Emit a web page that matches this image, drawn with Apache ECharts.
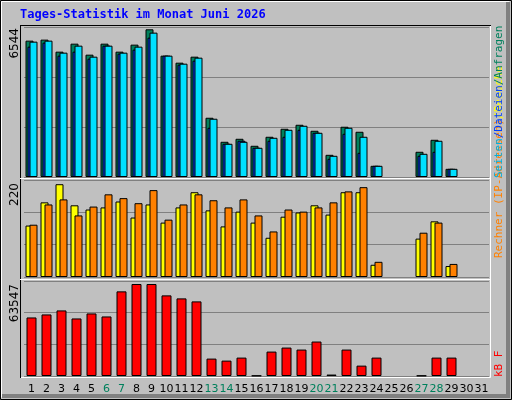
<!DOCTYPE html>
<html><head><meta charset="utf-8">
<script src="https://cdn.jsdelivr.net/npm/echarts@6/dist/echarts.min.js"></script>
<style>html,body{margin:0;padding:0;background:#c0c0c0}#c{width:512px;height:400px}</style>
</head><body><div id="c"></div>
<script>
const days = Array.from({length:31},(_,i)=>String(i+1));
const weekendDays = ['6','7','13','14','20','21','27','28'];
const anfragen = [6041,6086,5553,5908,5420,5908,5553,5864,6544,5376,5065,5331,2625,1560,1693,1383,1782,2137,2314,2048,983,2226,2004,495,null,null,1117,1649,362,null,null];
const dateien  = [5775,5953,5376,5553,5243,5819,5465,5642,6174,5376,4977,5154,2181,1472,1605,1294,1605,1782,2092,1959,806,1915,1072,495,null,null,939,1117,362,null,null];
const seiten   = [5997,6041,5509,5819,5331,5819,5509,5775,6396,5376,5021,5287,2581,1472,1560,1294,1737,2092,2270,1959,939,2181,1782,495,null,null,1028,1605,362,null,null];
const besuche  = [122,177,220,170,160,165,179,141,172,129,165,201,158,120,155,129,93,143,153,170,148,201,201,29,null,null,91,132,26,null,null];
const rechner  = [124,172,184,146,167,196,187,175,206,136,172,196,182,165,184,146,108,160,155,165,177,203,213,36,null,null,105,129,31,null,null];
const kbytes   = [40439,42519,45292,39746,43212,41132,58463,63547,63547,55690,53611,51531,12016,10630,12709,300,16869,19642,18256,23801,1000,18256,7163,12709,null,null,300,12709,12709,null,null];
const maxLabels = ['6544','220','63547'];

const chart = echarts.init(document.getElementById('c'));
const grids = [{left:24,width:465,top:27,height:150},{left:24,width:465,top:180,height:97},{left:24,width:465,top:281,height:95}];
const maxes = [6646,230,65627];
const xAxes = grids.map((g,i)=>({type:'category',gridIndex:i,data:days,axisLine:{show:false},axisTick:{show:false},
  axisLabel:{show:i===2,interval:0,margin:8,fontFamily:'DejaVu Sans',fontSize:11,
   formatter:v=>weekendDays.includes(v)?'{w|'+v+'}':'{n|'+v+'}',
   rich:{w:{color:'#00805c',fontFamily:'DejaVu Sans',fontSize:11},n:{color:'#000',fontFamily:'DejaVu Sans',fontSize:11}}}}));
const yAxes = grids.map((g,i)=>({type:'value',gridIndex:i,min:0,max:maxes[i],interval:maxes[i]/3,axisLabel:{show:false},axisLine:{show:false},axisTick:{show:false},splitLine:{show:true,lineStyle:{color:'#808080',width:1}}}));
const bs = {borderColor:'#000',borderWidth:1};
const rot = (x,y,parts,align)=>({type:'text',x:x,y:y,rotation:Math.PI/2,style:{rich:parts.rich,text:parts.text,align:align,verticalAlign:'middle',fontFamily:'DejaVu Sans Mono',fontSize:11}});
chart.setOption({
  animation:false,
  backgroundColor:'#c0c0c0',
  grid:grids,xAxis:xAxes,yAxis:yAxes,
  series:[
    {type:'bar',xAxisIndex:0,yAxisIndex:0,data:anfragen,barWidth:8,barGap:'-75%',itemStyle:Object.assign({color:'#00805c'},bs)},
    {type:'bar',xAxisIndex:0,yAxisIndex:0,data:dateien,barWidth:8,barGap:'-75%',itemStyle:Object.assign({color:'#0040ff'},bs)},
    {type:'bar',xAxisIndex:0,yAxisIndex:0,data:seiten,barWidth:8,barGap:'-75%',itemStyle:Object.assign({color:'#00e0ff'},bs)},
    {type:'bar',xAxisIndex:1,yAxisIndex:1,data:besuche,barWidth:8,barGap:'-50%',itemStyle:Object.assign({color:'#ffff00'},bs)},
    {type:'bar',xAxisIndex:1,yAxisIndex:1,data:rechner,barWidth:8,barGap:'-50%',itemStyle:Object.assign({color:'#ff8000'},bs)},
    {type:'bar',xAxisIndex:2,yAxisIndex:2,data:kbytes,barWidth:10,itemStyle:Object.assign({color:'#ff0000'},bs)}
  ],
  graphic:[
    {type:'rect',shape:{x:0.5,y:0.5,width:511,height:399},style:{fill:null,stroke:'#000',lineWidth:1}},
    {type:'polyline',shape:{points:[[1.5,397.5],[1.5,1.5],[509.5,1.5]]},style:{fill:null,stroke:'#fff',lineWidth:1}},
    {type:'rect',shape:{x:506,y:2,width:4,height:396},style:{fill:'#808080'}},
    {type:'rect',shape:{x:2,y:394,width:508,height:4},style:{fill:'#808080'}},
    {type:'text',x:20,y:15,style:{text:'Tages-Statistik im Monat Juni 2026',fill:'#0000ff',font:'bold 12px "DejaVu Sans Mono"',verticalAlign:'middle'}},
    {type:'rect',shape:{x:20.5,y:25.5,width:470,height:352},style:{fill:null,stroke:'#fff',lineWidth:1}},
    {type:'line',shape:{x1:20.5,y1:25,x2:20.5,y2:378},style:{stroke:'#000',lineWidth:1}},
    {type:'line',shape:{x1:20,y1:25.5,x2:491,y2:25.5},style:{stroke:'#000',lineWidth:1}},
    {type:'line',shape:{x1:20,y1:178.5,x2:491,y2:178.5},style:{stroke:'#fff',lineWidth:1}},
    {type:'line',shape:{x1:20,y1:279.5,x2:491,y2:279.5},style:{stroke:'#fff',lineWidth:1}},
    {type:'text',x:15,y:28,rotation:Math.PI/2,style:{text:maxLabels[0],align:'right',verticalAlign:'middle',fill:'#000',font:'12px "DejaVu Sans"'}},
    {type:'text',x:15,y:183,rotation:Math.PI/2,style:{text:maxLabels[1],align:'right',verticalAlign:'middle',fill:'#000',font:'12px "DejaVu Sans"'}},
    {type:'text',x:15,y:284,rotation:Math.PI/2,style:{text:maxLabels[2],align:'right',verticalAlign:'middle',fill:'#000',font:'12px "DejaVu Sans"'}},
    {type:'text',x:499,y:258,rotation:Math.PI/2,style:{text:'{o|Rechner (IP-Adressen)}{y|/Besuche}',align:'left',verticalAlign:'middle',font:'11px "DejaVu Sans Mono"',rich:{o:{fill:'#ff8000',font:'11px "DejaVu Sans Mono"'},y:{fill:'#ffff00',font:'11px "DejaVu Sans Mono"'}}}},
    {type:'text',x:499,y:178,rotation:Math.PI/2,style:{text:'{c|Seiten}{b|/Dateien}{g|/Anfragen}',align:'left',verticalAlign:'middle',font:'11px "DejaVu Sans Mono"',rich:{c:{fill:'#00b0e0',font:'11px "DejaVu Sans Mono"'},b:{fill:'#0040ff',font:'11px "DejaVu Sans Mono"'},g:{fill:'#00805c',font:'11px "DejaVu Sans Mono"'}}}},
    {type:'text',x:499,y:377,rotation:Math.PI/2,style:{text:'kB F',align:'left',verticalAlign:'middle',fill:'#ff0000',font:'11px "DejaVu Sans Mono"'}}
  ]
});
</script></body></html>
